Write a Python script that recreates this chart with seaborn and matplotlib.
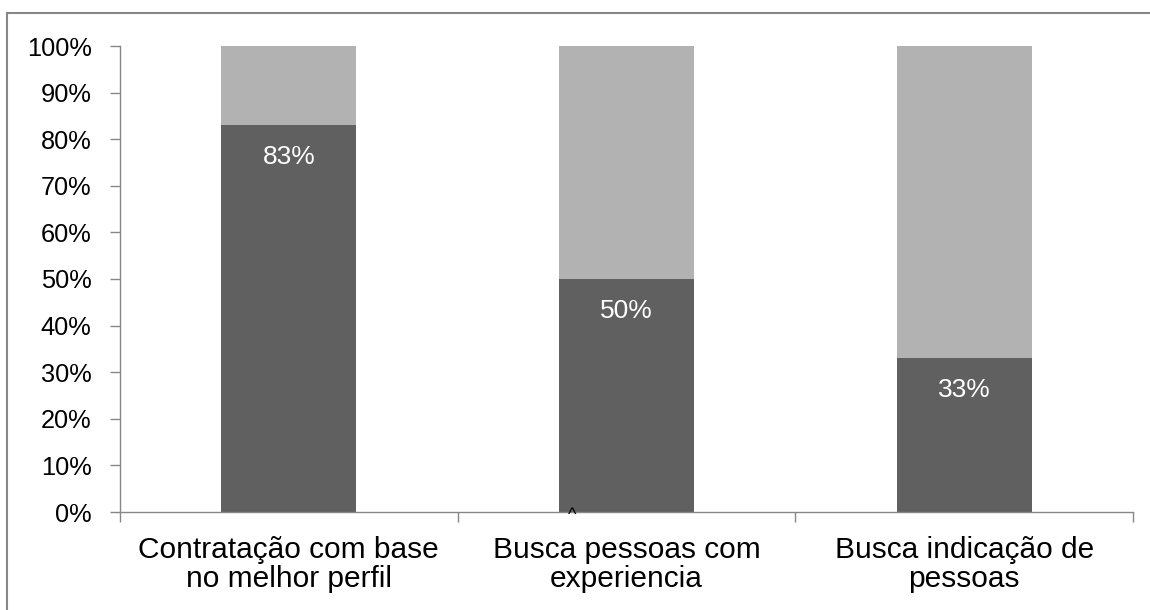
import matplotlib
matplotlib.use("Agg")
import matplotlib.pyplot as plt
from matplotlib.patches import Rectangle
from matplotlib.ticker import FixedLocator
import seaborn as sns

# Share of companies adopting each hiring practice (%)
categories = ["Contratação com base\nno melhor perfil",
              "Busca pessoas com\nexperiencia",
              "Busca indicação de\npessoas"]
share = [83, 50, 33]
total = [100, 100, 100]
y_ticks = list(range(0, 101, 10))
y_tick_labels = [f"{v}%" for v in y_ticks]

dark = "#606060"
light = "#b2b2b2"
axis_gray = "#878787"

sns.set_theme(style="white")
plt.rcParams["font.family"] = ["Liberation Sans", "DejaVu Sans"]

fig = plt.figure(figsize=(11.5, 6.1), dpi=100)
ax = fig.add_axes([120 / 1150, 1 - 512 / 610, (1133 - 120) / 1150, (512 - 46) / 610])

# 100% stacked bars: full-height light bar with the share drawn over it
sns.barplot(x=categories, y=total, color=light, width=0.4, saturation=1,
            linewidth=0, ax=ax)
sns.barplot(x=categories, y=share, color=dark, width=0.4, saturation=1,
            linewidth=0, ax=ax)

for i, v in enumerate(share):
    ax.annotate(f"{v}%", xy=(i, v), xytext=(0, -23), textcoords="offset points",
                ha="center", va="center", color="white", fontsize=19)

ax.set_xlim(-0.5, 2.5)
ax.set_ylim(0, 100)
ax.set_yticks(y_ticks)
ax.set_yticklabels(y_tick_labels)
ax.tick_params(axis="y", which="major", length=7.5, width=1, color=axis_gray,
               direction="out", left=True, pad=13, labelsize=18.3, labelcolor="black")

ax.xaxis.set_minor_locator(FixedLocator([-0.5, 0.5, 1.5, 2.5]))
ax.tick_params(axis="x", which="minor", length=7.5, width=1, color=axis_gray,
               direction="out", bottom=True)
ax.tick_params(axis="x", which="major", length=0, pad=17.5, labelsize=21.5,
               labelcolor="black")
for lbl in ax.get_xticklabels():
    lbl.set_linespacing(1.05)

ax.set_xlabel("")
ax.set_ylabel("")
for side in ["top", "right"]:
    ax.spines[side].set_visible(False)
for side in ["left", "bottom"]:
    ax.spines[side].set_color(axis_gray)
    ax.spines[side].set_linewidth(1)

# small caret mark sitting on the baseline
ax.annotate("^", xy=(0.838, 0), xytext=(0, -6), textcoords="offset points",
            ha="center", va="baseline", fontsize=13, color="black")

# outer frame of the chart area
fig.patches.append(Rectangle((7 / 1150, -0.1), 1.2, 1 - 13 / 610 + 0.1,
                             transform=fig.transFigure, fill=False,
                             edgecolor=axis_gray, linewidth=1.5, zorder=0))

fig.savefig("out.png", dpi=100)
